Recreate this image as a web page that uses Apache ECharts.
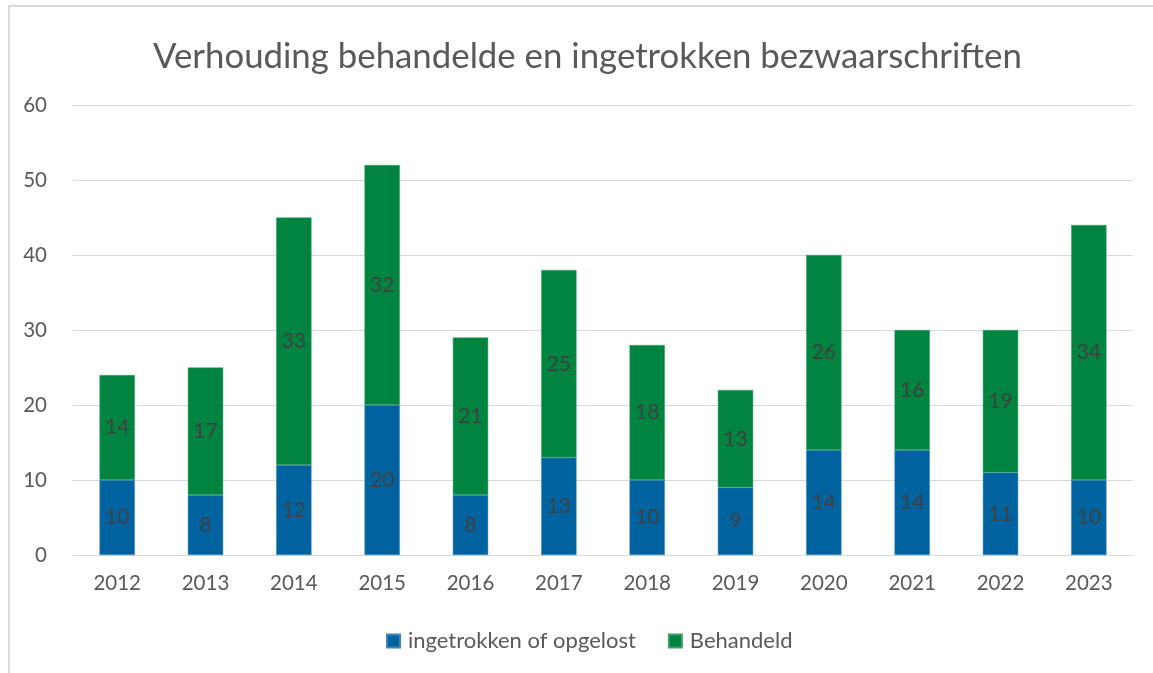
<!DOCTYPE html>
<html>
<head>
<meta charset="utf-8">
<script src="https://cdn.jsdelivr.net/npm/echarts@6/dist/echarts.min.js"></script>
<style>
html,body{margin:0;padding:0;background:#fff;}
#c{width:1153px;height:673px;}
</style>
</head>
<body>
<div id="c"></div>
<script>
var years = ['2012','2013','2014','2015','2016','2017','2018','2019','2020','2021','2022','2023'];
var ingetrokken = [10,8,12,20,8,13,10,9,14,14,11,10];
var behandeld = [14,17,33,32,21,25,18,13,26,16,19,34];
var yTicks = [0,10,20,30,40,50,60];

var font = 'Lato, "Open Sans", sans-serif';
var chart = echarts.init(document.getElementById('c'), null, {renderer:'canvas'});
var labelStyle = {show:true, position:'inside', color:'#404040', fontSize:21, fontFamily:font};
chart.setOption({
  animation:false,
  backgroundColor:'#fff',
  title:{
    text:'Verhouding behandelde en ingetrokken bezwaarschriften',
    left:148, top:34,
    textStyle:{color:'#595959', fontSize:34.8, fontWeight:'normal', fontFamily:font}
  },
  graphic:[
    {type:'line', shape:{x1:9, y1:6, x2:9, y2:673}, style:{stroke:'#d9d9d9', lineWidth:2}},
    {type:'line', shape:{x1:8, y1:6, x2:1153, y2:6}, style:{stroke:'#d9d9d9', lineWidth:2}}
  ],
  legend:{
    bottom:16, left:381, itemWidth:13, itemHeight:13, itemGap:32,
    icon:'rect',
    textStyle:{color:'#595959', fontSize:22, fontFamily:font, padding:[0,0,0,3]},
    data:['ingetrokken of opgelost','Behandeld']
  },
  grid:{left:73, right:20, top:105, bottom:118, containLabel:false},
  xAxis:{
    type:'category', data:years,
    axisLine:{show:true, lineStyle:{color:'#d9d9d9', width:1}},
    axisTick:{show:false},
    axisLabel:{color:'#595959', fontSize:20.5, fontFamily:font, margin:18}
  },
  yAxis:{
    type:'value', min:yTicks[0], max:yTicks[yTicks.length-1], interval:10,
    axisLine:{show:false}, axisTick:{show:false},
    splitLine:{lineStyle:{color:'#d9d9d9', width:1}},
    axisLabel:{color:'#595959', fontSize:20.5, fontFamily:font, margin:26}
  },
  series:[
    {name:'ingetrokken of opgelost', type:'bar', stack:'t', data:ingetrokken, barWidth:'40%',
     itemStyle:{color:'#00639F', borderColor:'#3d86bd', borderWidth:0.5}, label:labelStyle},
    {name:'Behandeld', type:'bar', stack:'t', data:behandeld, barWidth:'40%',
     itemStyle:{color:'#00843F', borderColor:'#3aa06a', borderWidth:0.5}, label:labelStyle}
  ]
});
</script>
</body>
</html>
